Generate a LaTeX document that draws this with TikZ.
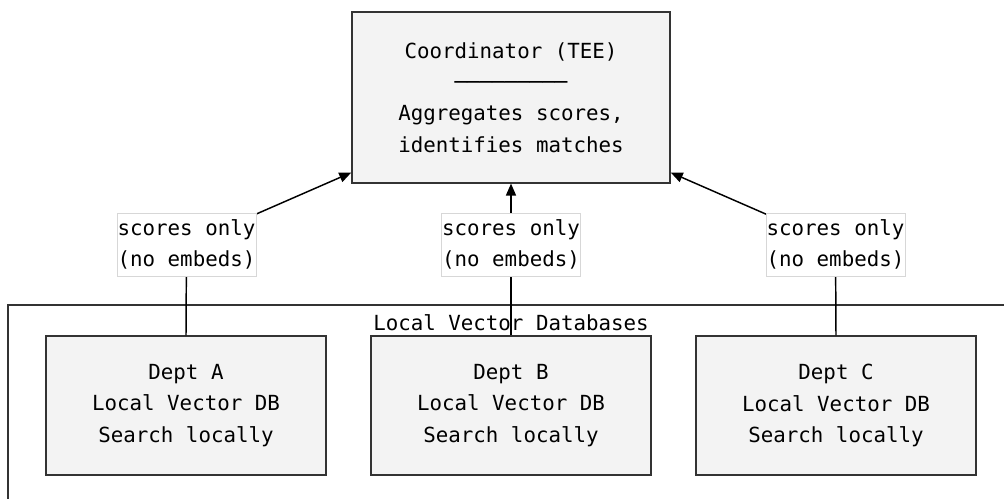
\documentclass[tikz,border=0pt]{standalone}
\usepackage{fontspec}
\newfontfamily\diagmono{DejaVu Sans Mono}
\usetikzlibrary{arrows.meta, calc}
\definecolor{boxfill}{RGB}{243,243,243}
\definecolor{boxline}{RGB}{51,51,51}
\definecolor{lblline}{RGB}{215,215,215}

\begin{document}
\begin{tikzpicture}[x=0.75pt, y=0.75pt,
    every node/.style={font=\diagmono\fontsize{15.6}{23.5}\selectfont, align=center, inner sep=0pt},
    box/.style={draw=boxline, fill=boxfill, line width=1.1pt},
    dept/.style={box, minimum width=210pt, minimum height=104pt},
    lbl/.style={fill=white, draw=lblline, line width=0.4pt, minimum width=104pt, minimum height=47pt},
    flow/.style={draw=black, line width=1.1pt},
    tip/.style={-{Triangle[length=9pt, width=7.5pt]}}]
  \useasboundingbox (0,0) rectangle (1004,499);
  \clip (0,0) rectangle (1004,499);
  % Local databases cluster
  \draw[draw=boxline, fill=white, line width=1.1pt] (8,194) rectangle (1030,-30);
  \node (clustertitle) at (511,176) {Local Vector Databases};
  % Coordinator
  \node[box, minimum width=238.5pt, minimum height=128pt] (coord) at (511,401.5)
    {Coordinator (TEE)\\─────────\\Aggregates scores,\\identifies matches};
  % Departments
  \node[dept] (deptA) at (186,93.5) {Dept A\\Local Vector DB\\Search locally};
  \node[dept] (deptB) at (511,93.5) {Dept B\\Local Vector DB\\Search locally};
  \node[dept] (deptC) at (836,93.5) {Dept C\\Local Vector DB\\Search locally};
  % Label positions
  \coordinate (lblApos) at (186.5,254.5);
  \coordinate (lblBpos) at (511,254.5);
  \coordinate (lblCpos) at (835.5,254.5);
  % Score flows
  \draw[flow, tip] (deptA.north) -- (lblApos) -- ($(coord.south west)+(0,11)$);
  \draw[flow, tip] (deptB.north) -- (coord.south);
  \draw[flow, tip] (deptC.north) -- (lblCpos) -- ($(coord.south east)+(0,11)$);
  % Flow labels
  \node[lbl] (lblA) at (lblApos) {scores only\\(no embeds)};
  \node[lbl] (lblB) at (lblBpos) {scores only\\(no embeds)};
  \node[lbl] (lblC) at (lblCpos) {scores only\\(no embeds)};
\end{tikzpicture}
\end{document}
